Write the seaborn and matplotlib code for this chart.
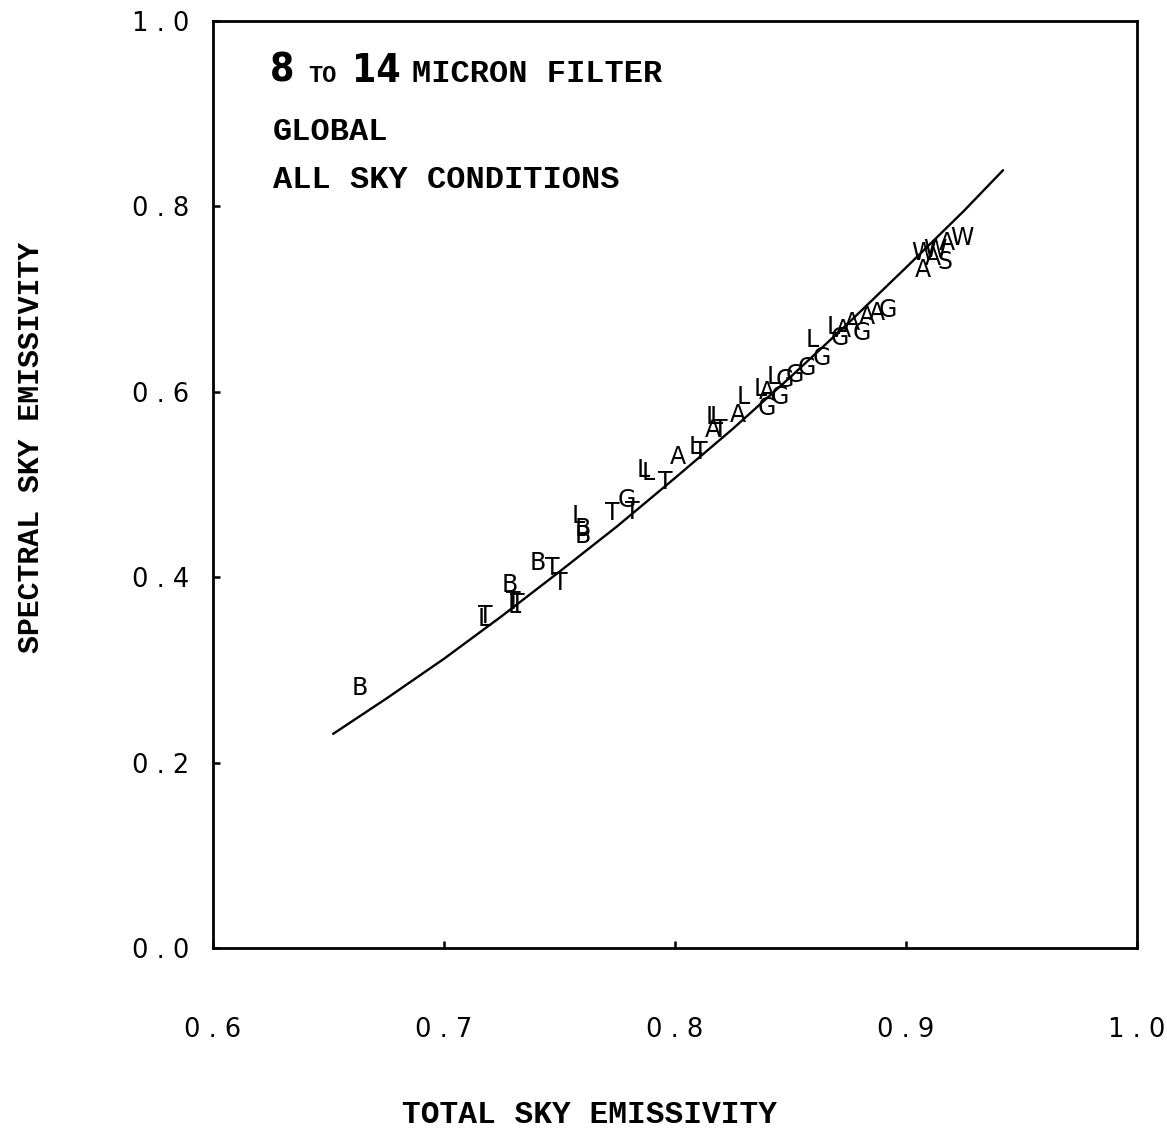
import matplotlib
matplotlib.use("Agg")
import matplotlib.pyplot as plt
import seaborn as sns
import pandas as pd

# ---- data ----
curve_x = [0.652, 0.675, 0.700, 0.725, 0.750, 0.775, 0.800, 0.825, 0.850, 0.875, 0.900, 0.925, 0.942]
curve_y = [0.231, 0.269, 0.312, 0.358, 0.406, 0.455, 0.507, 0.560, 0.616, 0.674, 0.734, 0.795, 0.839]

pt_label = ["B", "T", "L", "B", "T", "L", "T", "B", "T", "T",
            "L", "B", "B", "T", "G", "T", "L", "L", "T", "A",
            "L", "T", "A", "T", "L", "L", "A", "L", "G", "G",
            "L", "A", "L", "G", "G", "G", "G", "L", "L", "G",
            "A", "A", "G", "A", "A", "G", "A", "W", "A", "W",
            "S", "A", "W"]
pt_x = [0.6636, 0.7180, 0.7175, 0.7286, 0.7300, 0.7305, 0.7318, 0.7407, 0.7468, 0.7502,
        0.7580, 0.7600, 0.7600, 0.7727, 0.7792, 0.7814, 0.7861, 0.7883, 0.7957, 0.8013,
        0.8087, 0.8110, 0.8165, 0.8195, 0.8160, 0.8178, 0.8273, 0.8294, 0.8398, 0.8455,
        0.8368, 0.8398, 0.8424, 0.8476, 0.8520, 0.8571, 0.8636, 0.8593, 0.8684, 0.8714,
        0.8727, 0.8766, 0.8810, 0.8831, 0.8874, 0.8922, 0.9074, 0.9074, 0.9117, 0.9126,
        0.9169, 0.9177, 0.9242]
pt_y = [0.2805, 0.358, 0.355, 0.3916, 0.373, 0.369, 0.371, 0.4153, 0.410, 0.394,
        0.466, 0.452, 0.444, 0.469, 0.483, 0.470, 0.5156, 0.512, 0.5027, 0.530,
        0.540, 0.535, 0.559, 0.559, 0.573, 0.573, 0.575, 0.594, 0.5825, 0.594,
        0.603, 0.5995, 0.616, 0.6127, 0.618, 0.6257, 0.6365, 0.6559, 0.670, 0.658,
        0.6667, 0.674, 0.6634, 0.6807, 0.685, 0.688, 0.7314, 0.7497, 0.7443, 0.753,
        0.740, 0.7605, 0.766]

x_ticks = [0.6, 0.7, 0.8, 0.9, 1.0]
x_tick_labels = ["0 . 6", "0 . 7", "0 . 8", "0 . 9", "1 . 0"]
y_ticks = [0.0, 0.2, 0.4, 0.6, 0.8, 1.0]
y_tick_labels = ["0 . 0", "0 . 2", "0 . 4", "0 . 6", "0 . 8", "1 . 0"]

# ---- figure ----
sns.set_style("ticks")
plt.rcParams["font.family"] = ["DejaVu Sans"]
plt.rcParams["text.color"] = "black"
plt.rcParams["axes.labelcolor"] = "black"

fig = plt.figure(figsize=(11.67, 11.28), dpi=100)
ax = fig.add_axes([213 / 1167, 1 - 948 / 1128, 924 / 1167, 927 / 1128])

curve = pd.DataFrame({"total": curve_x, "spectral": curve_y})
sns.lineplot(data=curve, x="total", y="spectral", ax=ax, color="black", linewidth=1.7)

for lab, xx, yy in zip(pt_label, pt_x, pt_y):
    ax.text(xx, yy, lab, ha="center", va="center", fontsize=17,
            family="DejaVu Sans", color="black")

ax.set_xlim(0.6, 1.0)
ax.set_ylim(0.0, 1.0)
ax.set_xticks(x_ticks)
ax.set_xticklabels(x_tick_labels, family="DejaVu Sans", fontsize=18.5)
ax.set_yticks(y_ticks)
ax.set_yticklabels(y_tick_labels, family="DejaVu Sans", fontsize=18.5)
ax.tick_params(axis="x", direction="in", length=5, width=1.8, pad=50,
               colors="black", labelcolor="black")
ax.tick_params(axis="y", direction="in", length=5, width=1.8, pad=17,
               colors="black", labelcolor="black")

for s in ax.spines.values():
    s.set_visible(True)
    s.set_linewidth(2)
    s.set_color("black")

mono = "Liberation Mono"
ax.set_xlabel("TOTAL SKY EMISSIVITY", family=mono, fontsize=22.5, fontweight="bold")
ax.xaxis.set_label_coords(0.407, -0.164)
ax.set_ylabel("SPECTRAL SKY EMISSIVITY", family=mono, fontsize=21.5, fontweight="bold")
ax.yaxis.set_label_coords(-0.182, 0.5405)

# annotation block
ax.text(0.0617, 0.9342, "8", transform=ax.transAxes, va="baseline", ha="left",
        family="DejaVu Sans", fontstretch="condensed", fontsize=28, fontweight="bold")
ax.text(0.1028, 0.9342, "TO", transform=ax.transAxes, va="baseline", ha="left",
        family=mono, fontsize=17, fontweight="bold")
ax.text(0.1504, 0.9342, "14", transform=ax.transAxes, va="baseline", ha="left",
        family="DejaVu Sans", fontstretch="condensed", fontsize=28, fontweight="bold")
ax.text(0.2154, 0.9342, "MICRON FILTER", transform=ax.transAxes, va="baseline", ha="left",
        family=mono, fontsize=23, fontweight="bold")
ax.text(0.0650, 0.8716, "GLOBAL", transform=ax.transAxes, va="baseline", ha="left",
        family=mono, fontsize=23, fontweight="bold")
ax.text(0.0650, 0.8199, "ALL SKY CONDITIONS", transform=ax.transAxes, va="baseline", ha="left",
        family=mono, fontsize=23, fontweight="bold")

fig.savefig("out.png", dpi=100, facecolor="white")
